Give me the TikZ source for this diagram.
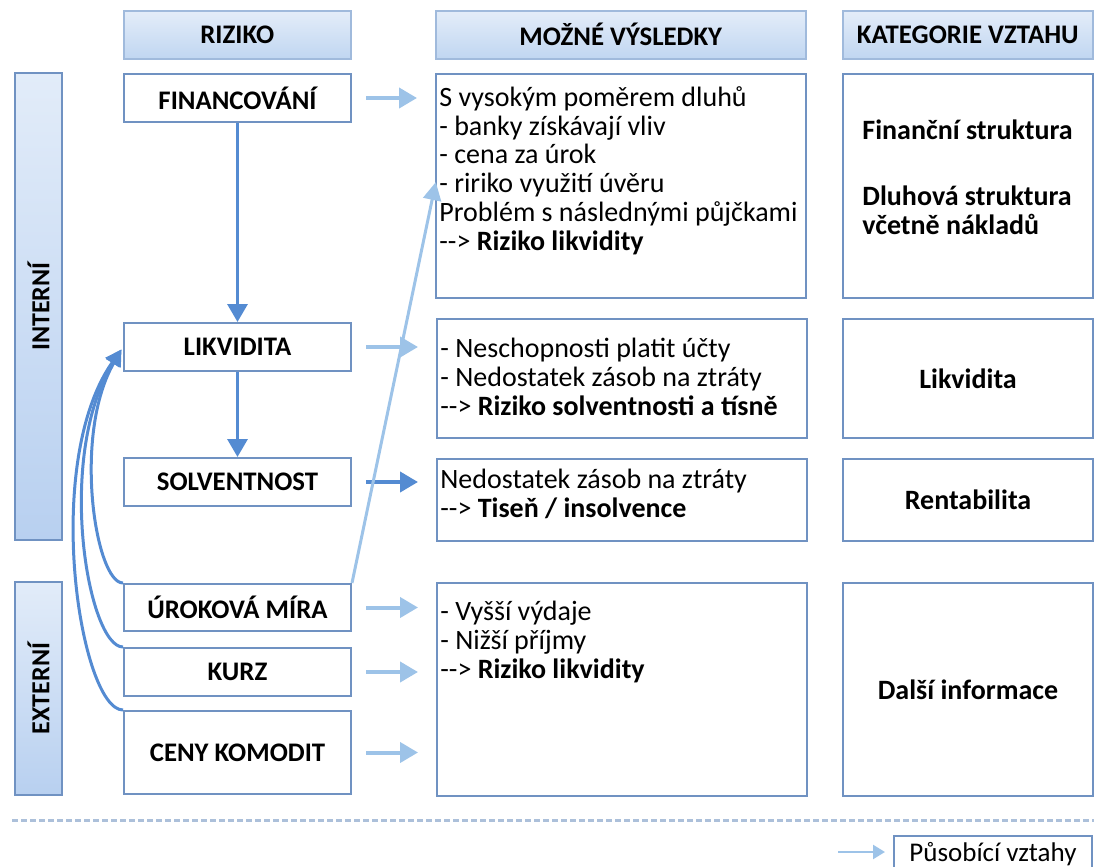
\documentclass[tikz,border=0pt]{standalone}
\usepackage{fontspec}
\setmainfont{Carlito}
\usetikzlibrary{positioning,arrows.meta,calc}

\definecolor{rim}{RGB}{112,146,194}
\definecolor{headrim}{RGB}{160,186,220}
\definecolor{headtop}{RGB}{228,237,249}
\definecolor{headbot}{RGB}{192,214,241}
\definecolor{sidel}{RGB}{226,236,249}
\definecolor{sider}{RGB}{184,208,240}
\definecolor{deepblue}{RGB}{84,139,210}
\definecolor{paleblue}{RGB}{157,195,232}
\definecolor{sepline}{RGB}{172,192,218}

\begin{document}
\begin{tikzpicture}[x=0.5pt,y=-0.5pt,
  font=\fontsize{14}{14.4}\selectfont,
  box/.style={draw=rim,line width=1pt,fill=white,inner sep=0pt,anchor=north west},
  head/.style={draw=headrim,line width=0.8pt,top color=headtop,bottom color=headbot,
    font=\fontsize{13.4}{15}\selectfont\bfseries,inner sep=0pt,anchor=north west,minimum height=24pt},
  risk/.style={box,font=\fontsize{13.4}{15}\selectfont\bfseries,minimum width=113.5pt},
  side/.style={draw=rim,line width=1pt,top color=sidel,bottom color=sider,rotate=90,
    font=\fontsize{13}{15}\selectfont\bfseries,minimum height=23.5pt,inner sep=0pt},
  outc/.style={box,minimum width=185pt},
  cat/.style={box,minimum width=125pt,font=\fontsize{14}{14.4}\selectfont\bfseries},
  txt/.style={align=left,inner sep=0pt},
  flow/.style={-{Triangle[length=9pt,width=10pt]},line width=1.6pt,deepblue},
  feed/.style={-{Triangle[length=9pt,width=10pt]},line width=2pt,paleblue,
    shorten <=7pt,shorten >=9pt},
  back/.style={-{Triangle[length=8pt,width=8pt]},line width=1.5pt,deepblue,shorten >=1.5pt},
]
\useasboundingbox (0,0) rectangle (1094,867);

% column headers
\node[head,minimum width=113.5pt] (hriz) at (123,10) {RIZIKO};
\node[head,minimum width=185pt] (hvys) at (435,10) {MOŽNÉ VÝSLEDKY};
\node[head,minimum width=125pt] (hkat) at (842,10) {KATEGORIE VZTAHU};

% internal / external bars
\node[side,minimum width=233.5pt] (int) at (38.5,306.5) {INTERNÍ};
\node[side,minimum width=106.5pt] (ext) at (38.5,688.5) {EXTERNÍ};

% risks
\node[risk,minimum height=24pt] (fin) at (123,73) {FINANCOVÁNÍ};
\node[risk,minimum height=24pt] (lik) at (123,322) {LIKVIDITA};
\node[risk,minimum height=24pt] (sol) at (123,457) {SOLVENTNOST};
\node[risk,minimum height=23.5pt] (uro) at (123,583) {ÚROKOVÁ MÍRA};
\node[risk,minimum height=24pt] (kurz) at (123,647) {KURZ};
\node[risk,minimum height=41.5pt] (ceny) at (123,710) {CENY KOMODIT};

% possible outcomes
\node[outc,minimum height=112pt] (o1) at (435,73) {};
\node[outc,minimum height=59.5pt] (o2) at (436,318) {};
\node[outc,minimum height=41pt] (o3) at (436,458) {};
\node[outc,minimum height=106.5pt] (o4) at (436,582) {};
\node[txt,below right=6.5pt and 2pt of o1.north west] (t1)
  {S vysokým poměrem dluhů\\- banky získávají vliv\\- cena za úrok\\- ririko využití úvěru\\
   Problém s následnými půjčkami\\-{}-{}> \textbf{Riziko likvidity}};
\node[txt,below right=10pt and 2pt of o2.north west] (t2)
  {- Neschopnosti platit účty\\- Nedostatek zásob na ztráty\\-{}-{}> \textbf{Riziko solventnosti a tísně}};
\node[txt,below right=5.5pt and 2pt of o3.north west] (t3)
  {Nedostatek zásob na ztráty\\-{}-{}> \textbf{Tiseň / insolvence}};
\node[txt,below right=9.5pt and 2pt of o4.north west] (t4)
  {- Vyšší výdaje\\- Nižší příjmy\\-{}-{}> \textbf{Riziko likvidity}};

% relation categories
\node[cat,minimum height=112pt] (c1) at (842,73) {};
\node[cat,minimum height=59.5pt] (c2) at (842,318) {Likvidita};
\node[cat,minimum height=41pt] (c3) at (842,458) {Rentabilita};
\node[cat,minimum height=106.5pt] (c4) at (842,582) {Další informace};
\node[txt,font=\fontsize{14}{14.4}\selectfont\bfseries,below right=23pt and 10pt of c1.north west] (t5)
  {Finanční struktura\\[19pt]Dluhová struktura\\včetně nákladů};

% links
\draw[flow] (fin) -- (lik);
\draw[flow] (lik) -- (sol);
\draw[feed] (fin.east) -- (fin.east -| o1.west);
\draw[feed] (lik.east) -- (lik.east -| o2.west);
\draw[feed,deepblue] (sol.east) -- (sol.east -| o3.west);
\draw[feed] (uro.east) -- (uro.east -| o4.west);
\draw[feed] (kurz.east) -- (kurz.east -| o4.west);
\draw[feed] (ceny.east) -- (ceny.east -| o4.west);
\draw[-{Triangle[length=9pt,width=9pt]},line width=1.5pt,paleblue,shorten >=-2pt] (uro.north east) -- (o1.west);
\draw[back] (uro.north west) to[out=180,in=-120,out looseness=0.3,in looseness=1.1] (lik.west);
\draw[back] (kurz.north west) to[out=180,in=-122,out looseness=0.3,in looseness=1.1] (lik.west);
\draw[back] (ceny.north west) to[out=180,in=-125,out looseness=0.3,in looseness=1.01] (lik.west);

% legend
\draw[sepline,line width=1.5pt,dash pattern=on 3pt off 1.5pt] (12,820) -- (1094,820);
\node[box,minimum width=99pt,minimum height=18pt,font=\fontsize{13.5}{15}\selectfont] (leg) at (893,835) {Působící vztahy};
\coordinate (legtail) at (838,852);
\draw[-{Triangle[length=6pt,width=7pt]},line width=1.2pt,paleblue,shorten >=4pt] (legtail) -- (legtail -| leg.west);
\end{tikzpicture}
\end{document}
